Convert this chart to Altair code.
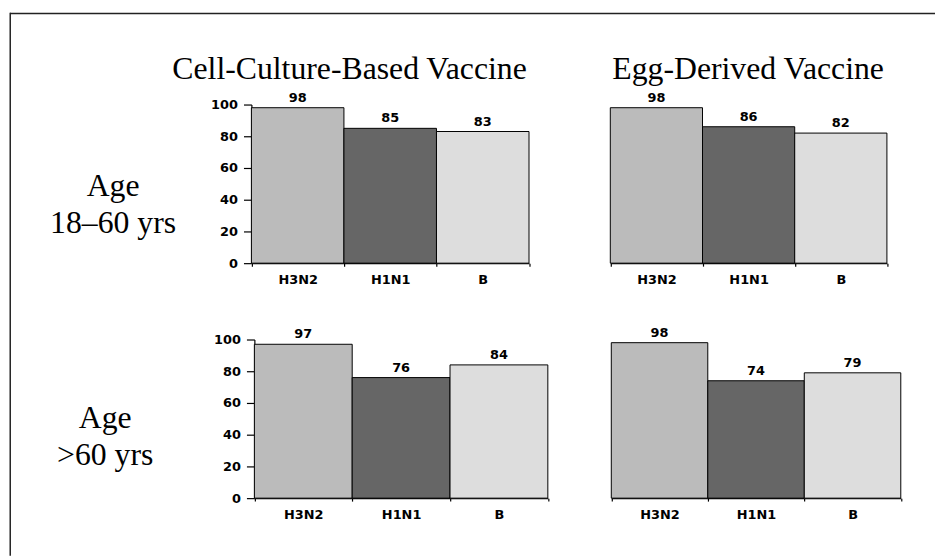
import altair as alt
import pandas as pd

# ---- data ----
strains = ["H3N2", "H1N1", "B"]
bar_colors = ["#bbbbbb", "#666666", "#dddddd"]
cell_18_60 = [98, 85, 83]
egg_18_60 = [98, 86, 82]
cell_over_60 = [97, 76, 84]
egg_over_60 = [98, 74, 79]
y_ticks = [0, 20, 40, 60, 80, 100]
col_titles = ["Cell-Culture-Based Vaccine", "Egg-Derived Vaccine"]
row_titles = ["Age\n18\u201360 yrs", "Age\n>60 yrs"]

W, H = 935, 550
SANS = "DejaVu Sans"
SERIF = "Liberation Serif"


def panel(values, xrange, yrange, x_offset, y_offset, show_y):
    df = pd.DataFrame({"strain": strains, "value": values})
    x = alt.X(
        "strain:N",
        sort=strains,
        scale=alt.Scale(range=xrange, paddingInner=0, paddingOuter=0),
        axis=alt.Axis(
            title=None, orient="bottom", offset=x_offset, labelAngle=0,
            tickBand="extent", tickSize=3, labelPadding=8,
        ),
    )
    if show_y:
        yaxis = alt.Axis(
            title=None, orient="left", offset=y_offset, values=y_ticks,
            grid=False, tickSize=8, labelPadding=6,
        )
    else:
        yaxis = None
    y = alt.Y(
        "value:Q",
        scale=alt.Scale(domain=[0, 100], range=yrange, nice=False, zero=True),
        axis=yaxis,
    )
    bars = alt.Chart(df).mark_bar(stroke="black", strokeWidth=1).encode(
        x=x,
        y=y,
        color=alt.Color(
            "strain:N",
            scale=alt.Scale(domain=strains, range=bar_colors),
            legend=None,
        ),
    )
    labels = alt.Chart(df).mark_text(
        baseline="bottom", dy=-3, font=SANS, fontWeight="bold", fontSize=13,
        color="black",
    ).encode(x=x, y=y, text="value:Q")
    return alt.layer(bars, labels)


def label(text, x, y, size=32, line_height=38):
    return alt.Chart(pd.DataFrame({"t": [text]})).mark_text(
        font=SERIF, fontSize=size, align="center", baseline="alphabetic",
        lineBreak="\n", lineHeight=line_height, color="black",
    ).encode(text="t:N", x=alt.value(x), y=alt.value(y))


frame_df = pd.DataFrame({"f": [1]})
frame_top = alt.Chart(frame_df).mark_rect(color="#222222").encode(
    x=alt.value(2), x2=alt.value(W), y=alt.value(2.5), y2=alt.value(4)
)
frame_left = alt.Chart(frame_df).mark_rect(color="#222222").encode(
    x=alt.value(1.5), x2=alt.value(3), y=alt.value(2.5), y2=alt.value(H)
)

p_tl = panel(cell_18_60, [245.5, 525.5], [255, 95], 255 - H, -245.5, True)
p_tr = panel(egg_18_60, [607.5, 886.5], [255, 95], 255 - H, 0, False)
p_bl = panel(cell_over_60, [248.5, 544.5], [492, 332], 492 - H, -248.5, True)
p_br = panel(egg_over_60, [608.5, 900.5], [492, 332], 492 - H, 0, False)

chart = (
    alt.layer(
        frame_top,
        frame_left,
        label(col_titles[0], 344.5, 69),
        label(col_titles[1], 746.5, 69),
        label(row_titles[0], 106, 187),
        label(row_titles[1], 98, 421),
        p_tl, p_tr, p_bl, p_br,
    )
    .resolve_scale(x="independent", y="independent")
    .properties(width=W, height=H, autosize=alt.AutoSizeParams(type="none"), padding=0)
    .configure_view(strokeWidth=0)
    .configure_axis(
        labelFont=SANS, labelFontWeight="bold", labelFontSize=13, labelColor="black",
        domainColor="black", tickColor="black", domainWidth=1.2, tickWidth=1.2,
    )
)

chart.save("out.html", embed_options={"renderer": "svg", "actions": False})
